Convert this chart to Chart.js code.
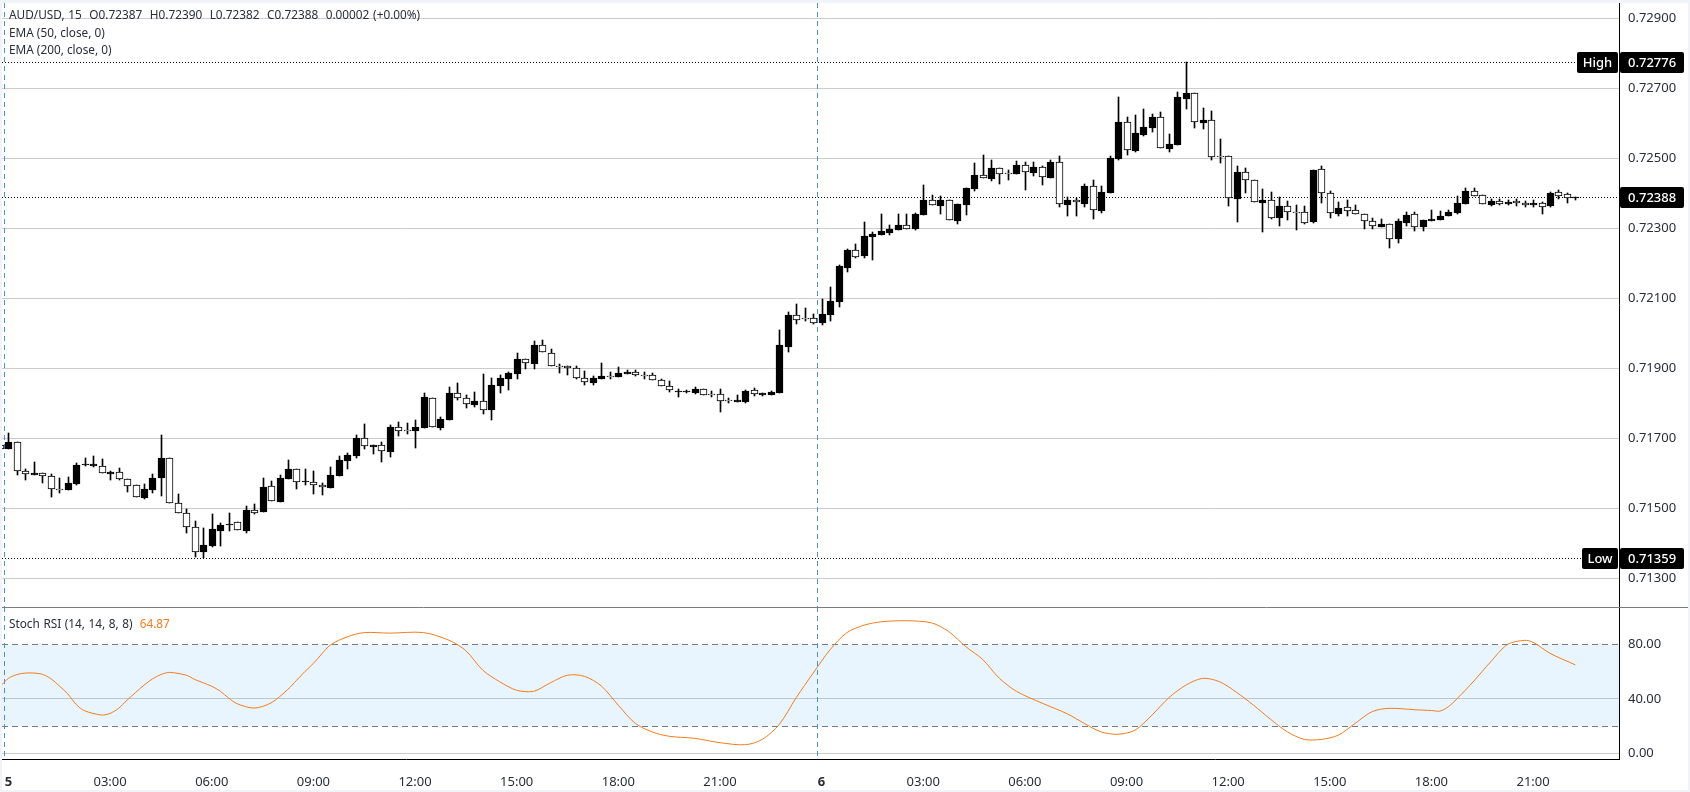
<!DOCTYPE html>
<html>
<head>
<meta charset="utf-8">
<title>AUD/USD 15</title>
<script src="https://cdn.jsdelivr.net/npm/chart.js@4"></script>
<style>
  html, body { margin: 0; padding: 0; width: 1690px; height: 792px; overflow: hidden; background: #f0f3fa; }
  #panel { position: absolute; left: 2px; top: 3px; width: 1686px; height: 787px; background: #fff; }
  canvas { position: absolute; left: 0; }
  #priceChart { top: 0; }
  #stochChart { top: 604px; }
  .legend { position: absolute; left: 7px; font: 11.8px "Noto Sans", sans-serif; line-height: 16px; color: #2a2e39; white-space: pre; }
  .legend b { font-weight: normal; color: #f57c1f; }
</style>
</head>
<body>
<div id="panel">
  <canvas id="priceChart" width="1686" height="604"></canvas>
  <canvas id="stochChart" width="1686" height="183"></canvas>
  <div class="legend" style="top:3px;word-spacing:0.7px">AUD/USD, 15  O0.72387  H0.72390  L0.72382  C0.72388  0.00002 (+0.00%)</div>
  <div class="legend" style="top:21px">EMA (50, close, 0)</div>
  <div class="legend" style="top:38px">EMA (200, close, 0)</div>
  <div class="legend" style="top:612px;word-spacing:0.5px">Stoch RSI (14, 14, 8, 8)  <b>64.87</b></div>
</div>
<script>
// Gia tinh bang point (1e-5), doc tu hinh
const opens = [71681,71670,71689,71606,71596,71600,71591,71554,71553,71570,71624,71622,71620,71599,71603,71585,71566,71530,71553,71587,71643,71514,71486,71446,71374,71393,71436,71451,71460,71436,71494,71490,71563,71519,71585,71611,71576,71576,71566,71559,71593,71636,71650,71700,71676,71680,71662,71731,71723,71722,71730,71814,71730,71753,71829,71814,71796,71806,71782,71850,71870,71885,71926,71913,71966,71943,71906,71906,71900,71871,71859,71870,71877,71876,71885,71889,71880,71880,71866,71849,71831,71831,71830,71840,71826,71826,71809,71804,71804,71837,71824,71824,71829,71962,72051,72041,72043,72030,72052,72089,72187,72237,72221,72275,72281,72287,72295,72309,72298,72338,72380,72364,72380,72321,72367,72412,72451,72442,72471,72457,72456,72480,72459,72474,72445,72489,72367,72380,72370,72420,72350,72402,72498,72603,72521,72567,72587,72617,72527,72539,72670,72686,72602,72609,72506,72506,72383,72460,72437,72373,72380,72330,72363,72346,72346,72319,72469,72400,72342,72360,72351,72340,72320,72305,72311,72269,72316,72340,72305,72322,72325,72336,72345,72370,72406,72394,72367,72378,72370,72377,72373,72367,72373,72364,72403,72397,72387];
const highs = [71681,71714,71689,71611,71632,71600,71597,71587,71589,71629,71643,71649,71640,71606,71614,71585,71567,71569,71597,71709,71643,71540,71497,71464,71443,71483,71457,71486,71460,71506,71511,71586,71578,71595,71637,71611,71611,71606,71571,71617,71649,71657,71709,71740,71680,71689,71737,71746,71743,71751,71829,71814,71760,71846,71857,71823,71831,71883,71871,71880,71889,71943,71926,71977,71980,71954,71911,71906,71906,71891,71877,71914,71889,71903,71894,71894,71889,71886,71869,71863,71840,71837,71846,71840,71834,71841,71814,71824,71838,71843,71829,71835,72009,72061,72084,72072,72055,72098,72132,72195,72240,72254,72317,72289,72341,72309,72341,72341,72344,72424,72395,72392,72380,72369,72414,72487,72509,72495,72471,72466,72491,72489,72489,72477,72494,72506,72389,72386,72426,72437,72421,72506,72674,72617,72623,72640,72626,72631,72569,72689,72776,72686,72643,72634,72554,72506,72477,72471,72437,72411,72403,72389,72377,72366,72363,72467,72477,72406,72374,72380,72366,72340,72329,72326,72311,72327,72346,72346,72323,72351,72349,72351,72391,72414,72414,72394,72384,72384,72381,72384,72378,72381,72376,72403,72409,72400,72390];
const lows = [71670,71670,71596,71582,71596,71573,71533,71545,71553,71567,71622,71619,71600,71582,71582,71547,71531,71527,71545,71536,71514,71486,71430,71360,71359,71390,71393,71436,71437,71430,71485,71489,71520,71519,71585,71555,71567,71541,71538,71559,71593,71613,71645,71670,71656,71633,71647,71707,71713,71673,71730,71731,71725,71753,71810,71787,71790,71770,71753,71830,71839,71870,71899,71899,71946,71906,71887,71882,71869,71851,71853,71870,71869,71874,71885,71877,71870,71866,71849,71831,71817,71830,71827,71823,71818,71775,71800,71804,71802,71821,71821,71824,71829,71947,72027,72034,72027,72024,72035,72075,72175,72215,72215,72209,72281,72281,72295,72299,72295,72338,72366,72341,72323,72312,72338,72407,72443,72436,72427,72439,72456,72410,72449,72425,72445,72362,72336,72336,72362,72327,72345,72402,72495,72509,72518,72564,72575,72529,72518,72539,72641,72587,72584,72495,72487,72364,72318,72401,72374,72289,72327,72307,72325,72296,72311,72316,72371,72330,72336,72336,72340,72299,72299,72305,72244,72258,72307,72293,72293,72322,72325,72336,72342,72370,72393,72368,72364,72367,72367,72364,72361,72361,72341,72361,72384,72372,72382];
const closes = [71670,71689,71606,71597,71600,71591,71554,71553,71571,71623,71626,71626,71600,71603,71585,71563,71533,71554,71586,71643,71514,71486,71446,71374,71394,71440,71451,71454,71437,71494,71487,71560,71520,71586,71611,71576,71577,71566,71560,71594,71637,71651,71700,71677,71680,71663,71731,71720,71721,71731,71817,71731,71754,71829,71814,71797,71806,71780,71851,71871,71886,71926,71914,71966,71946,71906,71904,71900,71871,71860,71871,71877,71875,71886,71889,71880,71878,71866,71849,71837,71836,71835,71840,71823,71825,71806,71807,71809,71835,71827,71829,71832,71967,72052,72039,72040,72030,72055,72092,72192,72237,72219,72278,72284,72291,72298,72309,72299,72341,72381,72366,72381,72323,72369,72414,72452,72443,72471,72454,72455,72480,72460,72474,72446,72489,72369,72380,72374,72420,72351,72403,72500,72603,72523,72571,72589,72617,72529,72540,72674,72686,72603,72609,72503,72504,72386,72460,72437,72376,72380,72330,72363,72346,72344,72316,72466,72400,72343,72357,72350,72340,72320,72306,72311,72269,72321,72337,72305,72323,72326,72334,72346,72371,72406,72393,72369,72377,72370,72376,72372,72367,72373,72361,72401,72392,72386,72388];

const priceTicks = [0.729, 0.727, 0.725, 0.723, 0.721, 0.719, 0.717, 0.715, 0.713];
const highPrice = 0.72776;
const lowPrice = 0.71359;
const lastPrice = 0.72388;

// Stoch RSI, doc theo tung cay nen
const stochBars = [0,1,2,3,4,5,6,7,8,9,10,12,13,14,15,17,18,19,20,22,23,25,26,27,28,30,32,34,35,36,37,38,39,41,43,46,50,53,55,57,59,61,63,65,67,69,71,73,75,77,79,82,85,88,90,92,94,96,98,100,102,104,107,110,112,114,116,118,120,123,126,128,130,132,134,136,138,140,142,144,146,148,150,152,154,156,158,160,162,164,167,169,170,171,172,174,176,178,180,181,183,186];
const stochValues = [49,55,57.8,58.9,58.9,58,54.8,49.5,43.6,35.8,31.2,28.1,29.3,33,39,50,54.6,57.8,59.4,57.3,54.2,49.2,45.6,40.5,36.4,33.2,37,47,53.5,60,66,73,79.5,85.5,88.6,88.2,88.6,83,75.3,61,52.5,46.3,45.5,51.8,57.3,56.5,49.4,35.3,22,15.7,12.5,11,7.8,6.3,10.2,21.2,40.8,58.8,76,88.6,94,96.5,97.3,95.7,89.4,78.4,69,55,45.5,36.9,29,22,15.7,14,17,28,40.8,50,55,52.5,44.7,35.3,25,15.7,10.2,10.2,13.3,22,30.6,33,32,31.4,31,34.2,39.9,53,67.2,80,82.9,81.5,73.4,64.87];
const stochTicks = [80, 40, 0];
const stochBandTop = 80;
const stochBandBottom = 20;

// Truc thoi gian
const timeBars = [1,13,25,37,49,61,73,85,97,109,121,133,145,157,169,181];
const timeLabels = ['5','03:00','06:00','09:00','12:00','15:00','18:00','21:00','6','03:00','06:00','09:00','12:00','15:00','18:00','21:00'];
const sessionBreaks = [0.5, 96.5];

const toPrice = p => p / 100000;
const fontFamily = '"Noto Sans", sans-serif';
const gridColor = 'rgba(128,128,128,0.4)';
const xMin = 0.2361;
const xMax = 191.145;

// Than nen [open, close] va bong nen [low, high]
const bodyData = opens.map((o, i) => ({ x: i, y: [toPrice(o), toPrice(closes[i])] }));
const wickData = lows.map((l, i) => ({ x: i, y: [toPrice(l), toPrice(highs[i])] }));
const bodyFill = opens.map((o, i) => (closes[i] >= o ? '#000000' : '#ffffff'));

function drawBreaks(chart) {
  const { ctx, chartArea, scales } = chart;
  ctx.save();
  ctx.strokeStyle = '#4f8fe6';
  ctx.lineWidth = 1;
  ctx.setLineDash([5, 4]);
  sessionBreaks.forEach(b => {
    const x = Math.round(scales.x.getPixelForValue(b)) + 0.5;
    ctx.beginPath();
    ctx.moveTo(x, chartArea.top);
    ctx.lineTo(x, chartArea.bottom);
    ctx.stroke();
  });
  ctx.restore();
}

function drawTag(ctx, x, y, w, text, left) {
  ctx.fillStyle = '#000';
  ctx.beginPath();
  ctx.roundRect(x, y - 10.5, w, 21, 2);
  ctx.fill();
  ctx.fillStyle = '#fff';
  ctx.textBaseline = 'middle';
  ctx.textAlign = left ? 'left' : 'center';
  ctx.fillText(text, left ? x + 8 : x + w / 2, y + 0.5);
}

// Can cay nen vao luoi pixel cho net
const snapBars = {
  id: 'snapBars',
  afterDatasetsUpdate(chart) {
    chart.getSortedVisibleDatasetMetas().forEach(meta => {
      meta.data.forEach(el => {
        el.x = Math.round(el.x) + 0.5;
        el.y = Math.round(el.y);
        el.base = Math.round(el.base);
        if (el.y === el.base) el.y = el.base - 1;
      });
    });
  }
};

const priceLines = {
  id: 'priceLines',
  beforeDatasetsDraw(chart) {
    const { ctx, chartArea, scales } = chart;
    drawBreaks(chart);
    ctx.save();
    ctx.strokeStyle = '#000';
    ctx.lineWidth = 1;
    ctx.setLineDash([1, 2]);
    [[highPrice, 1575], [lowPrice, 1580], [lastPrice, chartArea.right]].forEach(([price, end]) => {
      const y = Math.round(scales.y.getPixelForValue(price)) + 0.5;
      ctx.beginPath();
      ctx.moveTo(chartArea.left, y);
      ctx.lineTo(end, y);
      ctx.stroke();
    });
    ctx.restore();
  },
  afterDraw(chart) {
    const { ctx, scales } = chart;
    const yHigh = Math.round(scales.y.getPixelForValue(highPrice)) + 0.5;
    const yLow = Math.round(scales.y.getPixelForValue(lowPrice)) + 0.5;
    const yLast = Math.round(scales.y.getPixelForValue(lastPrice)) + 0.5;
    ctx.save();
    ctx.font = '500 13px ' + fontFamily;
    drawTag(ctx, 1575, yHigh, 41, 'High');
    drawTag(ctx, 1580, yLow, 36, 'Low');
    drawTag(ctx, 1618, yHigh, 64, highPrice.toFixed(5), true);
    drawTag(ctx, 1618, yLow, 64, lowPrice.toFixed(5), true);
    drawTag(ctx, 1618, yLast, 64, lastPrice.toFixed(5), true);
    ctx.restore();
  }
};

const stochBand = {
  id: 'stochBand',
  beforeDatasetsDraw(chart) {
    const { ctx, chartArea, scales } = chart;
    const top = Math.round(scales.y.getPixelForValue(stochBandTop)) + 0.5;
    const bottom = Math.round(scales.y.getPixelForValue(stochBandBottom)) + 0.5;
    ctx.save();
    ctx.fillStyle = 'rgba(33,150,243,0.1)';
    ctx.fillRect(chartArea.left, top, chartArea.right - chartArea.left, bottom - top);
    ctx.strokeStyle = '#787b86';
    ctx.lineWidth = 1;
    ctx.setLineDash([6, 4]);
    [top, bottom].forEach(y => {
      ctx.beginPath();
      ctx.moveTo(chartArea.left, y);
      ctx.lineTo(chartArea.right, y);
      ctx.stroke();
    });
    ctx.restore();
    drawBreaks(chart);
  },
  afterDraw(chart) {
    const { ctx, width } = chart;
    ctx.save();
    ctx.strokeStyle = '#787b86';
    ctx.lineWidth = 1;
    ctx.beginPath();
    ctx.moveTo(0, 0.5);
    ctx.lineTo(width, 0.5);
    ctx.stroke();
    ctx.restore();
  }
};

// Bo phan dem ma Chart.js them cho nhan truc, de vung ve sat mep
function noPadding(scale) {
  scale.paddingTop = 0;
  scale.paddingBottom = 0;
  scale.paddingLeft = 0;
  scale.paddingRight = 0;
}

const yAxisBase = {
  position: 'right',
  border: { color: '#000', width: 1 },
  grid: { color: gridColor, drawTicks: false },
  afterFit(scale) { scale.width = 69; noPadding(scale); }
};
const tickFont = { family: fontFamily, size: 13 };

new Chart(document.getElementById('priceChart'), {
  type: 'bar',
  data: {
    datasets: [
      { data: bodyData, backgroundColor: bodyFill, borderColor: '#000', borderWidth: 1, borderSkipped: false, barThickness: 7, grouped: false },
      { data: wickData, backgroundColor: '#000', borderWidth: 0, barThickness: 1, grouped: false }
    ]
  },
  options: {
    responsive: false,
    animation: false,
    devicePixelRatio: 1,
    layout: { padding: 0 },
    plugins: { legend: { display: false }, tooltip: { enabled: false } },
    scales: {
      x: { type: 'linear', display: false, min: xMin, max: xMax, offset: false },
      y: {
        ...yAxisBase,
        min: 0.71218,
        max: 0.729437,
        afterBuildTicks(scale) { scale.ticks = priceTicks.map(value => ({ value })); },
        ticks: { padding: 9, color: '#2a2e39', font: tickFont, callback: v => v.toFixed(5) }
      }
    }
  },
  plugins: [snapBars, priceLines]
});

new Chart(document.getElementById('stochChart'), {
  type: 'line',
  data: {
    datasets: [{
      data: stochBars.map((b, i) => ({ x: b, y: stochValues[i] })),
      borderColor: '#f57c1f',
      borderWidth: 1,
      pointRadius: 0,
      tension: 0.3
    }]
  },
  options: {
    responsive: false,
    animation: false,
    devicePixelRatio: 1,
    layout: { padding: 0 },
    plugins: { legend: { display: false }, tooltip: { enabled: false } },
    scales: {
      x: {
        type: 'linear',
        min: xMin,
        max: xMax,
        offset: false,
        border: { color: '#000', width: 1 },
        grid: { display: false },
        afterFit(scale) { scale.height = 31; noPadding(scale); },
        afterBuildTicks(scale) { scale.ticks = timeBars.map(value => ({ value })); },
        ticks: {
          padding: 7,
          maxRotation: 0,
          autoSkip: false,
          color: '#2a2e39',
          font: ctx => ({ ...tickFont, weight: timeLabels[ctx.index] && timeLabels[ctx.index].length === 1 ? 'bold' : 'normal' }),
          callback: (v, i) => timeLabels[i]
        }
      },
      y: {
        ...yAxisBase,
        min: -4.18,
        max: 107.38,
        afterBuildTicks(scale) { scale.ticks = stochTicks.map(value => ({ value })); },
        grid: {
          drawTicks: false,
          color: ctx => (ctx.tick && ctx.tick.value === stochBandTop ? 'transparent' : gridColor)
        },
        ticks: { padding: 9, color: '#2a2e39', font: tickFont, callback: v => v.toFixed(2) }
      }
    }
  },
  plugins: [stochBand]
});
</script>
</body>
</html>
